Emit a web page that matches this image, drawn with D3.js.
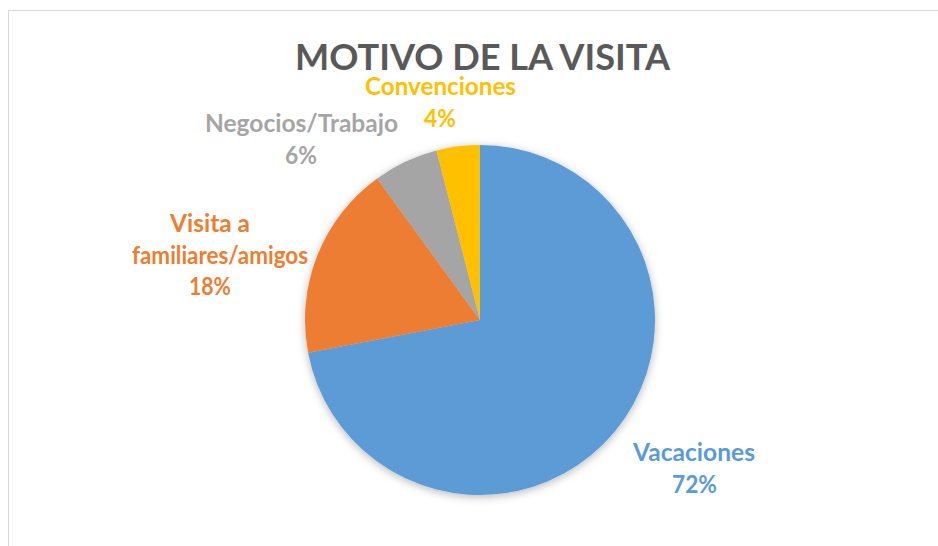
<!DOCTYPE html>
<html>
<head>
<meta charset="utf-8">
<script src="https://cdn.jsdelivr.net/npm/d3@7"></script>
<style>
  html, body { margin: 0; padding: 0; background: #fff; }
  svg { display: block; }
  text { font-family: Lato, "Open Sans", sans-serif; font-weight: bold; }
</style>
</head>
<body>
<svg id="chart" width="938" height="546"></svg>
<script>
// Trip purpose shares (percent)
const categories = ["Vacaciones", "Visita a familiares/amigos", "Negocios/Trabajo", "Convenciones"];
const values = [72, 18, 6, 4];
const labelLines = [["Vacaciones"], ["Visita a", "familiares/amigos"], ["Negocios/Trabajo"], ["Convenciones"]];
const colors = ["#5B9BD5", "#ED7D31", "#A5A5A5", "#FFC000"];
const title = "MOTIVO DE LA VISITA";

const W = 938, H = 546;
const cx = 480, cy = 320, R = 175;
const lineGap = 31.5;

// label anchor (centre x, first baseline) and per-line widths
const labelLayout = [
  { x: [694, 694.5], y: 461, w: [122, 45] },
  { x: [210, 220, 210], y: 232, w: [80, 176, 42] },
  { x: [301.5, 301], y: 132, w: [193, 32] },
  { x: [440.5, 440], y: 95, w: [151, 32] }
];

const svg = d3.select("#chart");

const defs = svg.append("defs");
const f = defs.append("filter").attr("id", "pieShadow")
  .attr("x", "-20%").attr("y", "-20%").attr("width", "140%").attr("height", "140%");
f.append("feDropShadow").attr("dx", 0).attr("dy", 2).attr("stdDeviation", 4)
  .attr("flood-color", "#000").attr("flood-opacity", 0.28);

// chart frame
svg.append("rect")
  .attr("x", 8.5).attr("y", 10.5).attr("width", W + 10).attr("height", H + 10)
  .attr("fill", "#fff").attr("stroke", "#d9d9d9").attr("stroke-width", 1);

// title
svg.append("text")
  .attr("x", 482.5).attr("y", 70)
  .attr("text-anchor", "middle")
  .attr("font-size", 37)
  .attr("fill", "#595959")
  .attr("textLength", 375).attr("lengthAdjust", "spacingAndGlyphs")
  .text(title);

const pie = d3.pie().sort(null).value(d => d)(values);
const arc = d3.arc().innerRadius(0).outerRadius(R);

const g = svg.append("g").attr("transform", `translate(${cx},${cy})`);
g.append("g").attr("filter", "url(#pieShadow)")
  .selectAll("path").data(pie).join("path")
  .attr("d", arc)
  .attr("fill", (d, i) => colors[i]);

// data labels: category name lines then percent
const fmt = d3.format(".0%");
pie.forEach((d, i) => {
  const lines = labelLines[i].concat([fmt(values[i] / d3.sum(values))]);
  const L = labelLayout[i];
  lines.forEach((t, j) => {
    svg.append("text")
      .attr("x", L.x[j]).attr("y", L.y + j * lineGap)
      .attr("text-anchor", "middle")
      .attr("font-size", 24)
      .attr("fill", colors[i])
      .attr("textLength", L.w[j]).attr("lengthAdjust", "spacingAndGlyphs")
      .text(t);
  });
});
</script>
</body>
</html>
